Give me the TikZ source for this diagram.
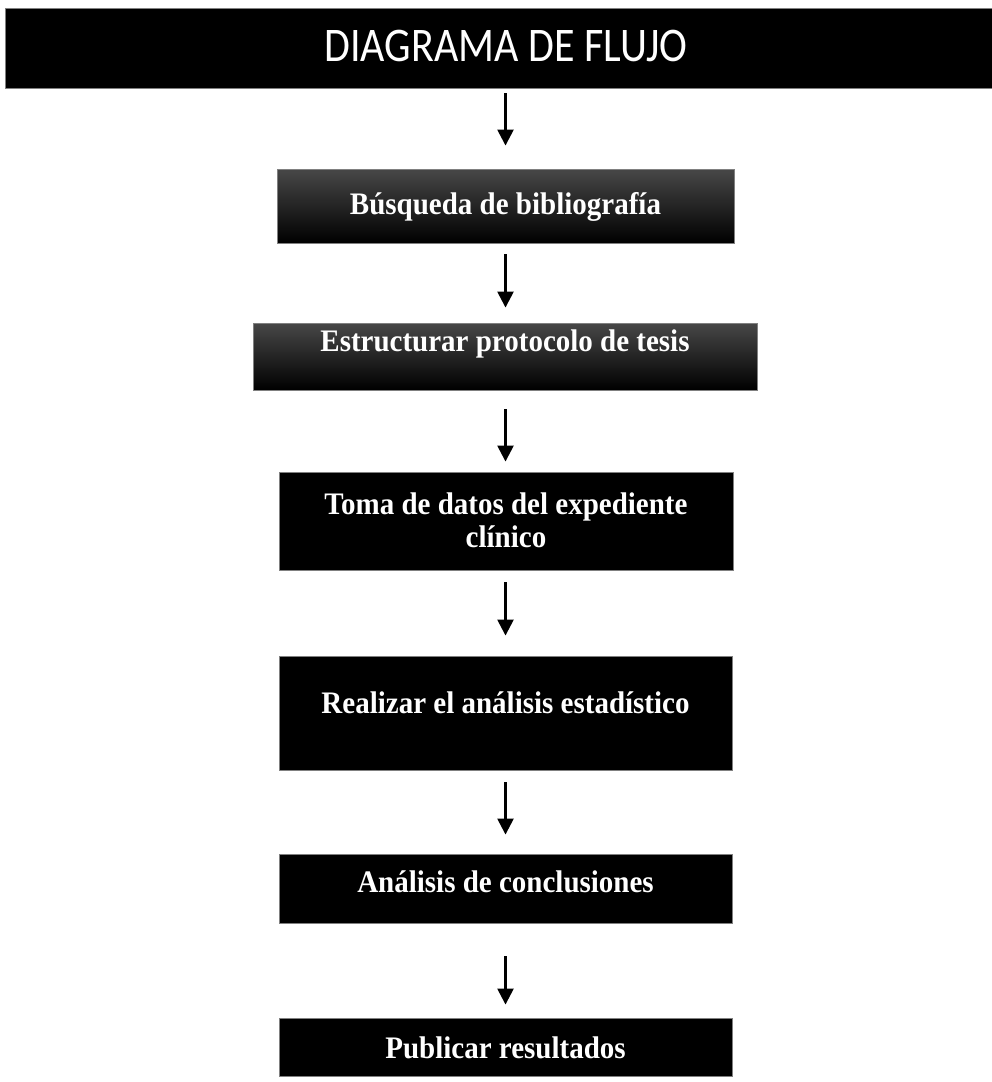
\documentclass[tikz,border=0pt]{standalone}
\usepackage{fontspec}
\setmainfont{Liberation Serif}
\newfontfamily\calib{Carlito}
\usetikzlibrary{arrows.meta}
\newcommand{\tallt}[1]{\scalebox{1}[1.08]{#1}}
\tikzset{
  stepbox/.style={draw=black!50, line width=0.9pt, fill=black, inner sep=0pt},
  gradbox/.style={stepbox, top color=black!72, middle color=black, bottom color=black},
  lbl/.style={text=white, font=\bfseries\fontsize{29}{31}\selectfont, align=center, inner sep=0pt, anchor=base},
  arr/.style={line width=2.5pt, -{Triangle[width=16pt,length=16pt]}}
}
\begin{document}
\begin{tikzpicture}[x=1pt,y=-1pt]
\useasboundingbox (0,0) rectangle (992,1082);
\begin{scope}
\clip (0,0) rectangle (992,1082);
\node[stepbox, minimum width=992pt, minimum height=80pt] (b0) at (501,48) {};
\end{scope}
\node[text=white, font=\calib\fontsize{42}{46}\selectfont, inner sep=0pt, anchor=base] (t0) at (506,61) {\scalebox{1}[1.15]{DIAGRAMA DE FLUJO}};

\node[gradbox, minimum width=457pt, minimum height=74pt] (b1) at (505.5,206) {};
\node[gradbox, minimum width=504pt, minimum height=67pt] (b2) at (505,356.5) {};
\node[stepbox, minimum width=454pt, minimum height=98pt] (b3) at (506,521) {};
\node[stepbox, minimum width=453pt, minimum height=114pt] (b4) at (505.5,713) {};
\node[stepbox, minimum width=453pt, minimum height=69pt] (b5) at (505.5,888.5) {};
\node[stepbox, minimum width=453pt, minimum height=58pt] (b6) at (505.5,1047) {};

\node[lbl] (t1) at (505.5,214) {\tallt{Búsqueda de bibliografía}};
\node[lbl] (t2) at (505,351) {\tallt{Estructurar protocolo de tesis}};
\node[lbl] (t3a) at (506,514) {\tallt{Toma de datos del expediente}};
\node[lbl] (t3b) at (506,547) {\tallt{clínico}};
\node[lbl] (t4) at (505.5,713) {\tallt{Realizar el análisis estadístico}};
\node[lbl] (t5) at (505.5,892) {\tallt{Análisis de conclusiones}};
\node[lbl] (t6) at (505.5,1058) {\tallt{Publicar resultados}};

\draw[arr, shorten <=5pt, shorten >=23pt] (b1.north |- b0.south) -- (b1.north);
\draw[arr, shorten <=11pt, shorten >=15pt] (b1.south) -- (b1.south |- b2.north);
\draw[arr, shorten <=19pt, shorten >=10pt] (b1.south |- b2.south) -- (b1.south |- b3.north);
\draw[arr, shorten <=12pt, shorten >=20pt] (b1.south |- b3.south) -- (b1.south |- b4.north);
\draw[arr, shorten <=12pt, shorten >=19pt] (b1.south |- b4.south) -- (b1.south |- b5.north);
\draw[arr, shorten <=33pt, shorten >=13pt] (b1.south |- b5.south) -- (b1.south |- b6.north);
\end{tikzpicture}
\end{document}
